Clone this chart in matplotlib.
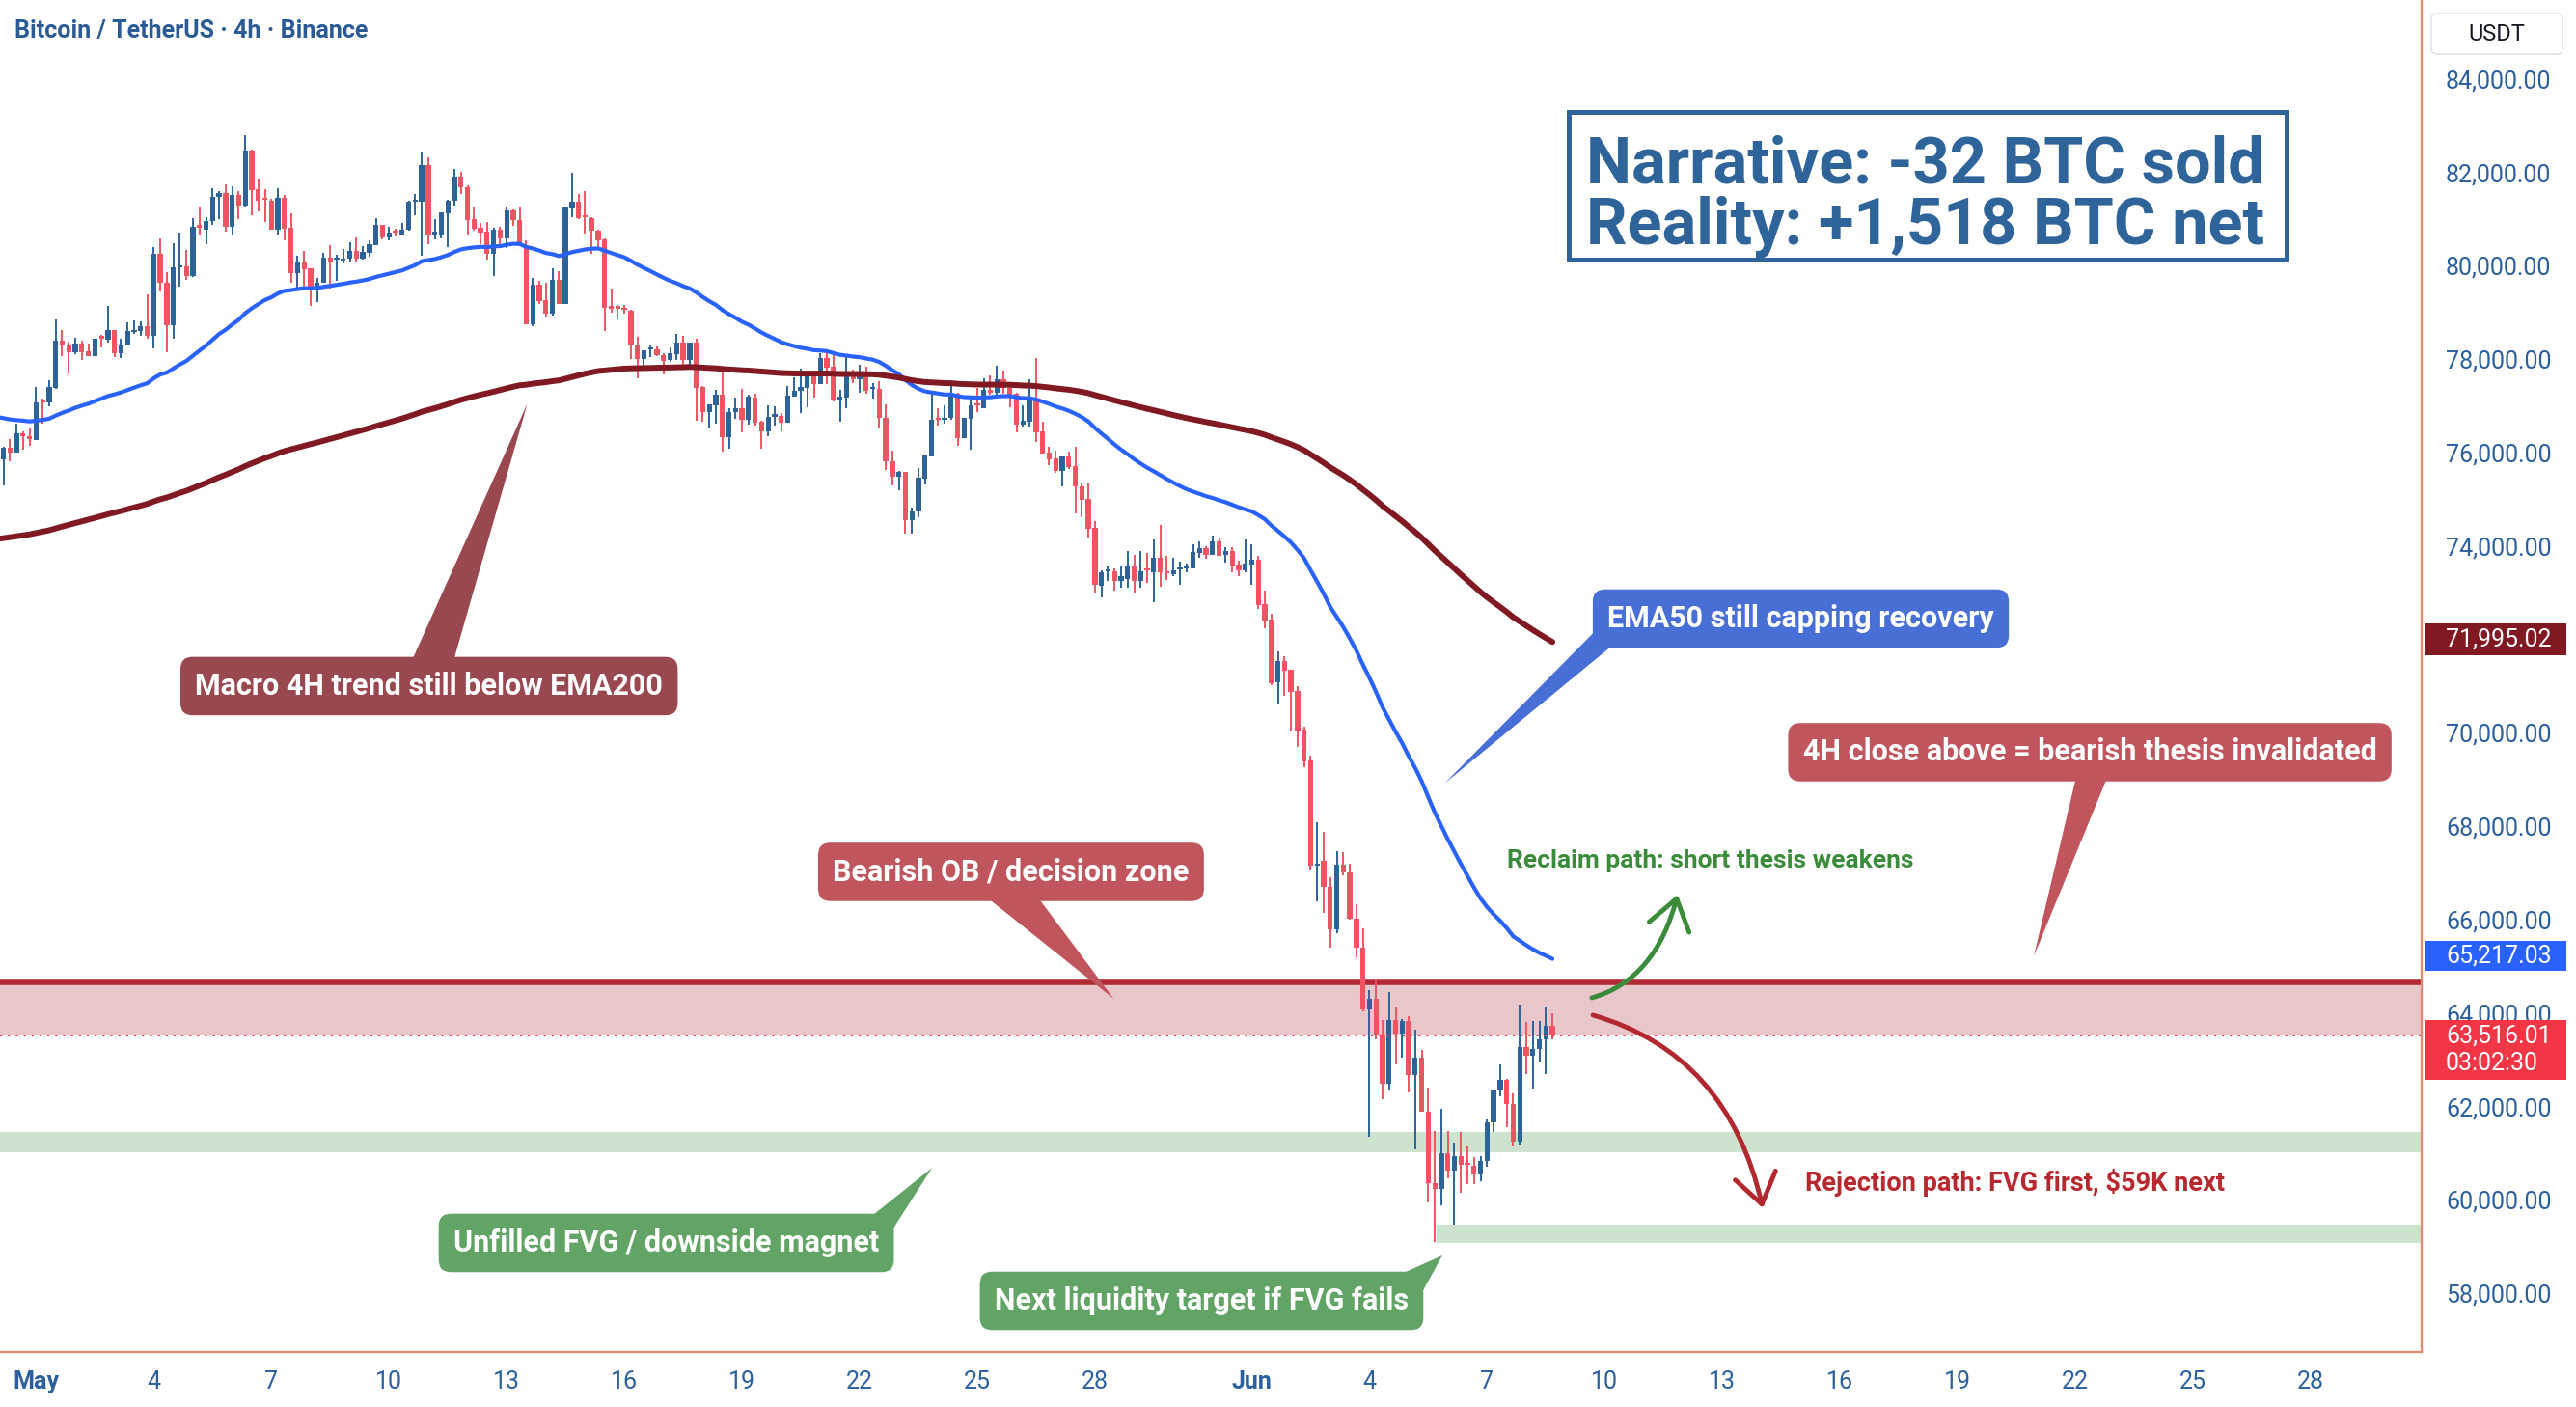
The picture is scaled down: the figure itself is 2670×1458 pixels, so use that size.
import numpy as np
import pandas as pd
import matplotlib
matplotlib.use('Agg')
import matplotlib.pyplot as plt
from matplotlib.patches import Polygon, Rectangle, FancyArrowPatch, FancyBboxPatch
from matplotlib.path import Path

# BTC/USDT 4h candles, 30 Apr 04:00 -> 8 Jun 16:00
opens = [
    75700, 75860, 76100, 75990, 76410, 76350, 76275, 77090, 77065, 77390,
    78390, 78305, 78145, 78335, 78160, 78070, 78470, 78420, 78615, 78135,
    78300, 78580, 78595, 78700, 78505, 80245, 79630, 78730, 79970, 79985,
    79780, 80845, 80780, 80950, 81465, 81555, 80835, 81515, 81295, 82465,
    81640, 81430, 81400, 80765, 81455, 80810, 79835, 80080, 79940, 79510,
    79630, 80165, 80125, 80110, 80145, 80315, 80160, 80280, 80440, 80865,
    80610, 80730, 80675, 80765, 81365, 81365, 82155, 80675, 80675, 81130,
    81385, 81900, 81680, 80990, 80810, 80730, 80260, 80765, 80580, 81175,
    80970, 80435, 78745, 79595, 79265, 78975, 79695, 79180, 81230, 81365,
    81055, 81020, 80750, 80570, 79105, 79105, 79075, 79040, 78305, 78010,
    78210, 78210, 78090, 77975, 78115, 78355, 77990, 78355, 77405, 76860,
    77010, 77240, 76335, 76875, 76940, 76700, 77185, 76665, 76460, 76770,
    76785, 76645, 77200, 77315, 77390, 77630, 77470, 78025, 77835, 77115,
    77185, 77645, 77560, 77715, 77355, 77355, 76740, 75805, 75475, 75585,
    74545, 74740, 75445, 75920, 76715, 76700, 76735, 77265, 76300, 76715,
    77030, 76955, 77335, 77270, 77560, 77390, 77265, 76600, 76665, 77150,
    76445, 75990, 75875, 75615, 75910, 75700, 75275, 75000, 74395, 73150,
    73450, 73465, 73250, 73300, 73565, 73250, 73500, 73430, 73740, 73445,
    73395, 73500, 73510, 73525, 73855, 73960, 73810, 74100, 73810, 73900,
    73600, 73485, 73600, 73705, 72755, 72430, 71075, 71535, 71350, 70895,
    70075, 69400, 67150, 67265, 66700, 65785, 67175, 67010, 66015, 65405,
    64085, 64305, 63545, 62480, 63845, 63560, 63825, 62665, 63050, 61895,
    60365, 60240, 61000, 60620, 60945, 60770, 60735, 60535, 60825, 61655,
    62355, 62560, 62045, 61255, 63270, 63080, 63225, 63430, 63720,
]
highs = [
    76000, 76115, 76290, 76620, 76460, 76515, 77400, 77150, 77550, 78855,
    78620, 78375, 78455, 78390, 78335, 78440, 78525, 79130, 78615, 78445,
    78790, 78820, 78800, 79385, 80400, 80585, 79870, 80480, 80710, 80330,
    81020, 81265, 81040, 81660, 81605, 81750, 81695, 81605, 82795, 82485,
    81845, 81640, 81430, 81660, 81520, 81120, 80220, 80315, 79950, 79730,
    80270, 80440, 80235, 80350, 80500, 80610, 80420, 80535, 81020, 80880,
    80835, 80800, 80920, 81400, 81535, 82430, 82325, 80990, 81145, 81405,
    82075, 82020, 81730, 81245, 80915, 80935, 80810, 80835, 81245, 81210,
    81260, 80535, 79730, 79685, 79630, 79940, 79885, 81250, 81985, 81540,
    81590, 81040, 80765, 80590, 79505, 79160, 79160, 79055, 78470, 78195,
    78300, 78265, 78125, 78250, 78540, 78490, 78355, 78435, 77425, 77025,
    77340, 77735, 76940, 77170, 77355, 77230, 77250, 76680, 77010, 76990,
    76840, 77425, 77615, 77805, 77665, 77715, 78125, 78125, 78145, 77335,
    78080, 77770, 77870, 77835, 77480, 77525, 77030, 76045, 75615, 75585,
    74820, 75670, 75955, 77320, 76940, 77010, 77495, 77285, 76750, 77185,
    77390, 77595, 77650, 77860, 77755, 77440, 77285, 77010, 77575, 78025,
    76665, 76115, 76045, 75920, 76010, 76115, 75360, 75360, 74530, 73470,
    73565, 73510, 73565, 73890, 73810, 73890, 73855, 74145, 74440, 73790,
    73740, 73670, 73615, 74035, 74100, 73995, 74220, 74155, 73980, 73980,
    73690, 74130, 74030, 73790, 73050, 72550, 71740, 71640, 71350, 71005,
    70125, 69505, 68090, 67885, 66900, 67475, 67440, 67195, 66325, 65820,
    64490, 64720, 63845, 64455, 64120, 63880, 63925, 63635, 63205, 62395,
    61480, 61950, 61465, 61220, 61445, 61135, 60910, 60945, 61720, 62355,
    62895, 62585, 62275, 64180, 63800, 63825, 63825, 64135, 63995,
]
lows = [
    75550, 75290, 75820, 75990, 76070, 76150, 76275, 76610, 77000, 77370,
    78070, 77700, 78115, 77990, 78070, 78055, 78250, 78355, 78045, 78030,
    78300, 78540, 78490, 78445, 78230, 79455, 78145, 78445, 79560, 79695,
    79765, 80675, 80470, 80880, 81005, 80730, 80675, 81005, 81275, 81090,
    81170, 80935, 80765, 80675, 80535, 79640, 79470, 79540, 79130, 79215,
    79630, 79510, 79685, 80040, 80075, 80075, 80130, 80200, 80440, 80565,
    80535, 80625, 80660, 80745, 81090, 80215, 80470, 80570, 80580, 80400,
    81295, 81540, 80645, 80745, 80455, 80125, 79780, 80385, 80370, 80845,
    80420, 78745, 78710, 79180, 78885, 78940, 79180, 79180, 81040, 81005,
    80695, 80260, 80330, 78610, 78995, 78855, 78975, 78010, 77595, 77805,
    78045, 78060, 77680, 77940, 77990, 77805, 77805, 76680, 76665, 76540,
    76610, 76010, 76080, 76720, 76440, 76595, 76575, 76080, 76355, 76585,
    76460, 76645, 77195, 76850, 76975, 77185, 77470, 77470, 77095, 76665,
    76955, 77495, 77285, 77250, 77150, 76530, 75620, 75305, 75185, 74255,
    74255, 74620, 75325, 75910, 76585, 76610, 76700, 76150, 76300, 76065,
    76875, 76940, 77230, 77230, 77265, 76975, 76425, 76565, 76565, 76235,
    75980, 75735, 75565, 75270, 75645, 74705, 74615, 74185, 73000, 72900,
    73250, 73050, 73100, 73100, 73000, 73100, 73200, 72800, 73135, 73280,
    73360, 73170, 73445, 73525, 73755, 73725, 73810, 73790, 73650, 73445,
    73360, 73445, 73170, 72650, 72240, 71020, 70630, 70790, 70055, 69690,
    69265, 67050, 66385, 66150, 65395, 65700, 66950, 65990, 65200, 64045,
    61345, 63445, 62155, 62340, 62905, 63050, 62295, 61090, 61895, 59950,
    59090, 59885, 60470, 59465, 60160, 60345, 60345, 60395, 60705, 61445,
    62225, 61550, 61135, 61185, 62685, 62375, 62950, 62685, 63445,
]
closes = [
    75840, 76100, 75990, 76410, 76340, 76280, 77080, 77065, 77400, 78390,
    78305, 78145, 78335, 78145, 78070, 78435, 78445, 78615, 78135, 78305,
    78595, 78610, 78700, 78505, 80245, 79630, 78730, 79965, 80005, 79785,
    80835, 80820, 80950, 81475, 81555, 80835, 81510, 81295, 82465, 81625,
    81400, 81405, 80765, 81455, 80800, 79835, 80080, 79925, 79510, 79630,
    80165, 80075, 80145, 80145, 80315, 80160, 80290, 80455, 80865, 80610,
    80700, 80700, 80780, 81370, 81385, 82155, 80675, 80710, 81145, 81385,
    81915, 81675, 80985, 80800, 80715, 80260, 80765, 80580, 81175, 80970,
    80420, 78745, 79595, 79250, 78975, 79695, 79180, 81245, 81365, 81020,
    81035, 80745, 80535, 79090, 79085, 79085, 79050, 78300, 78010, 78180,
    78235, 78080, 77960, 78125, 78355, 77990, 78355, 77390, 76860, 77025,
    77240, 76335, 76875, 76940, 76700, 77195, 76645, 76460, 76770, 76805,
    76645, 77215, 77320, 77405, 77645, 77470, 78025, 77825, 77115, 77195,
    77645, 77560, 77715, 77320, 77385, 76740, 75805, 75475, 75585, 74545,
    74740, 75460, 75930, 76700, 76695, 76735, 77265, 76300, 76735, 77010,
    77010, 77340, 77285, 77560, 77390, 77215, 76600, 76680, 77150, 76440,
    75980, 75860, 75615, 75910, 75680, 75270, 74995, 74375, 73170, 73445,
    73480, 73250, 73360, 73565, 73250, 73465, 73470, 73755, 73445, 73415,
    73480, 73520, 73545, 73875, 73960, 73810, 74100, 73790, 73900, 73590,
    73485, 73625, 73705, 72740, 72410, 71055, 71535, 71330, 70880, 70055,
    69385, 67150, 67200, 66700, 65785, 67175, 67010, 66015, 65395, 64085,
    64305, 63545, 62480, 63845, 63560, 63825, 62665, 63050, 61895, 60365,
    60240, 61000, 60620, 60945, 60745, 60750, 60535, 60825, 61655, 62355,
    62560, 62045, 61255, 63270, 63080, 63225, 63430, 63720, 63516.01,
]

# EMA values at the left edge of the chart (history before the first visible candle)
ema50_start = 76800
ema200_start = 74130

# levels
ob_low, ob_high = 63520, 64650
fvg_low, fvg_high = 61020, 61455
liq_low, liq_high = 59078, 59470
last_price = 63516.01
ema200_tag, ema50_tag = 71995.02, 65217.03

price_ticks = list(range(58000, 84001, 2000))
date_ticks = [0, 3, 6, 9, 12, 15, 18, 21, 24, 27, 31, 34, 37, 40, 43, 46, 49, 52, 55, 58]
date_labels = ['May', '4', '7', '10', '13', '16', '19', '22', '25', '28',
               'Jun', '4', '7', '10', '13', '16', '19', '22', '25', '28']

UP = '#2d6399'
DOWN = '#f05462'
AXIS_TXT = '#2b5f9e'
SALMON = '#e8866e'
FONT = ['Roboto', 'DejaVu Sans']
plt.rcParams['font.family'] = FONT

o = np.array(opens, float)
h = np.array(highs, float)
l = np.array(lows, float)
c = np.array(closes, float)
n = len(c)
x = (np.arange(n) - 6) / 6.0   # days since 1 May 00:00

ema50 = pd.Series([ema50_start] + closes).ewm(span=50, adjust=False).mean().values[1:]
ema200 = pd.Series([ema200_start] + closes).ewm(span=200, adjust=False).mean().values[1:]

fig = plt.figure(figsize=(26.7, 14.58), dpi=100)
ax = fig.add_axes([0, 57 / 1458, 2510 / 2670, 1401 / 1458])
ax.set_xlim(-0.92, 60.83)
ax.set_ylim(56743, 85688)

# zones
ax.axhspan(ob_low, ob_high, color='#e9c6c9', lw=0, zorder=1)
ax.axhline(ob_high, color='#b22833', lw=4, zorder=1.5)
ax.axhspan(fvg_low, fvg_high, color='#cde3cd', lw=0, zorder=1)
ax.axhspan(liq_low, liq_high, xmin=1489 / 2510, xmax=1, color='#cde3cd', lw=0, zorder=1)

# candles
cols = np.where(c >= o, UP, DOWN)
ax.vlines(x, l, h, colors=cols, lw=1.4, zorder=2)
body = np.maximum(np.abs(c - o), 45)
ax.bar(x, body, bottom=np.minimum(o, c), width=0.13, color=cols, lw=0, zorder=2)

ax.axhline(last_price, color='#f23645', lw=1.4, ls=(0, (1.2, 3)), zorder=2.5)

# moving averages
ax.plot(x, ema50, color='#2962ff', lw=3.0, zorder=3, solid_capstyle='round')
ax.plot(x, ema200, color='#801922', lw=4.3, zorder=3, solid_capstyle='round')

# axes styling
for s in ['top', 'left']:
    ax.spines[s].set_visible(False)
for s in ['right', 'bottom']:
    ax.spines[s].set_color(SALMON)
    ax.spines[s].set_linewidth(1.6)
ax.yaxis.tick_right()
ax.set_yticks(price_ticks)
ax.set_yticklabels([f'{v:,.2f}' for v in price_ticks])
ax.tick_params(axis='y', length=0, pad=18, labelsize=18, labelcolor=AXIS_TXT)
ax.set_xticks(date_ticks)
ax.set_xticklabels(date_labels)
ax.tick_params(axis='x', length=0, pad=14, labelsize=18, labelcolor=AXIS_TXT)
for t in ax.get_xticklabels():
    if t.get_text() in ('May', 'Jun'):
        t.set_fontweight('bold')


def callout(cx, cy, text, fc, tail):
    ax.add_patch(Polygon(tail, closed=True, fc=fc, ec='none', zorder=6))
    ax.text(cx, cy, text, ha='center', va='center', color='white', fontsize=22,
            fontweight='bold', zorder=7,
            bbox=dict(boxstyle='round,pad=0.5,rounding_size=0.42', fc=fc, ec='none'))


callout(10.02, 71000, 'Macro 4H trend still below EMA200', '#9a4850',
        [(9.29, 71000), (10.46, 71000), (12.53, 77052)])
callout(45.0, 72445, 'EMA50 still capping recovery', '#476fd6',
        [(40.07, 72445), (41.03, 72445), (35.91, 68912)])
callout(52.37, 69584, '4H close above = bearish thesis invalidated', '#c1555e',
        [(52.17, 69584), (53.08, 69584), (50.94, 65214)])
callout(24.86, 67022, 'Bearish OB / decision zone', '#c1555e',
        [(23.43, 67022), (25.06, 67022), (27.48, 64305)])
callout(16.07, 59078, 'Unfilled FVG / downside magnet', '#62a465',
        [(20.45, 59078), (21.62, 59078), (22.85, 60689)])
callout(29.72, 57838, 'Next liquidity target if FVG fails', '#62a465',
        [(33.28, 57838), (35.22, 57838), (35.86, 58810)])

# headline box
ax.add_patch(Rectangle((39.08, 80131), 57.39 - 39.08, 83291 - 80131, fc='white',
                       ec='#2e6499', lw=3.6, zorder=6))
ax.text(39.53, 82150, 'Narrative: -32 BTC sold', ha='left', va='center', fontsize=48,
        fontweight='bold', color='#2e6499', zorder=7)
ax.text(39.53, 80840, 'Reality: +1,518 BTC net', ha='left', va='center', fontsize=48,
        fontweight='bold', color='#2e6499', zorder=7)

# scenario arrows
ax.text(37.51, 67259, 'Reclaim path: short thesis weakens', ha='left', va='center',
        fontsize=19, fontweight='bold', color='#3a8c3a', zorder=7)
ax.text(45.11, 60359, 'Rejection path: FVG first, $59K next', ha='left', va='center',
        fontsize=19.5, fontweight='bold', color='#b8282f', zorder=7)


def curve_arrow(p0, p1, p2, color):
    path = Path([p0, p1, p2], [Path.MOVETO, Path.CURVE3, Path.CURVE3])
    ax.add_patch(FancyArrowPatch(path=path, arrowstyle='->,head_length=1.0,head_width=0.7',
                                 mutation_scale=22, color=color, lw=3.5, zorder=6))


curve_arrow((39.67, 64326), (41.29, 64708), (41.86, 66536), '#3a8c3a')
curve_arrow((39.70, 63954), (43.14, 63127), (44.03, 59822), '#b2282f')

# price tags on the scale
ytr = ax.get_yaxis_transform()
for val, label, fc, hgt in [
    (ema200_tag, '71,995.02', '#801922', 682),
    (ema50_tag, '65,217.03', '#2962ff', 640),
]:
    ax.add_patch(Rectangle((2513 / 2510, val - hgt / 2), 147 / 2510, hgt, transform=ytr,
                           fc=fc, ec='none', clip_on=False, zorder=8))
    ax.text(2535 / 2510, val, label, transform=ytr, ha='left', va='center',
            fontsize=18, color='white', clip_on=False, zorder=9)
ax.add_patch(Rectangle((2513 / 2510, 62570), 147 / 2510, 63850 - 62570, transform=ytr,
                       fc='#f23645', ec='none', clip_on=False, zorder=8))
ax.text(2535 / 2510, last_price, '63,516.01', transform=ytr, ha='left', va='center',
        fontsize=18, color='white', clip_on=False, zorder=9)
ax.text(2535 / 2510, 62920, '03:02:30', transform=ytr, ha='left', va='center',
        fontsize=18, color='white', clip_on=False, zorder=9)

# header
fig.text(15 / 2670, 1 - 32 / 1458, 'Bitcoin / TetherUS · 4h · Binance', ha='left',
         va='center', fontsize=18, fontweight='semibold', color='#2a5a96')
fig.add_artist(FancyBboxPatch((25.20, (1458 - 56) / 100), 1.36, 0.42,
                              boxstyle='round,pad=0,rounding_size=0.06',
                              transform=fig.dpi_scale_trans, fc='white', ec='#e0e3eb', lw=1.2))
fig.text(2588 / 2670, 1 - 35 / 1458, 'USDT', ha='center', va='center', fontsize=17,
         color='#131722')

fig.savefig('out.png', dpi=100)
